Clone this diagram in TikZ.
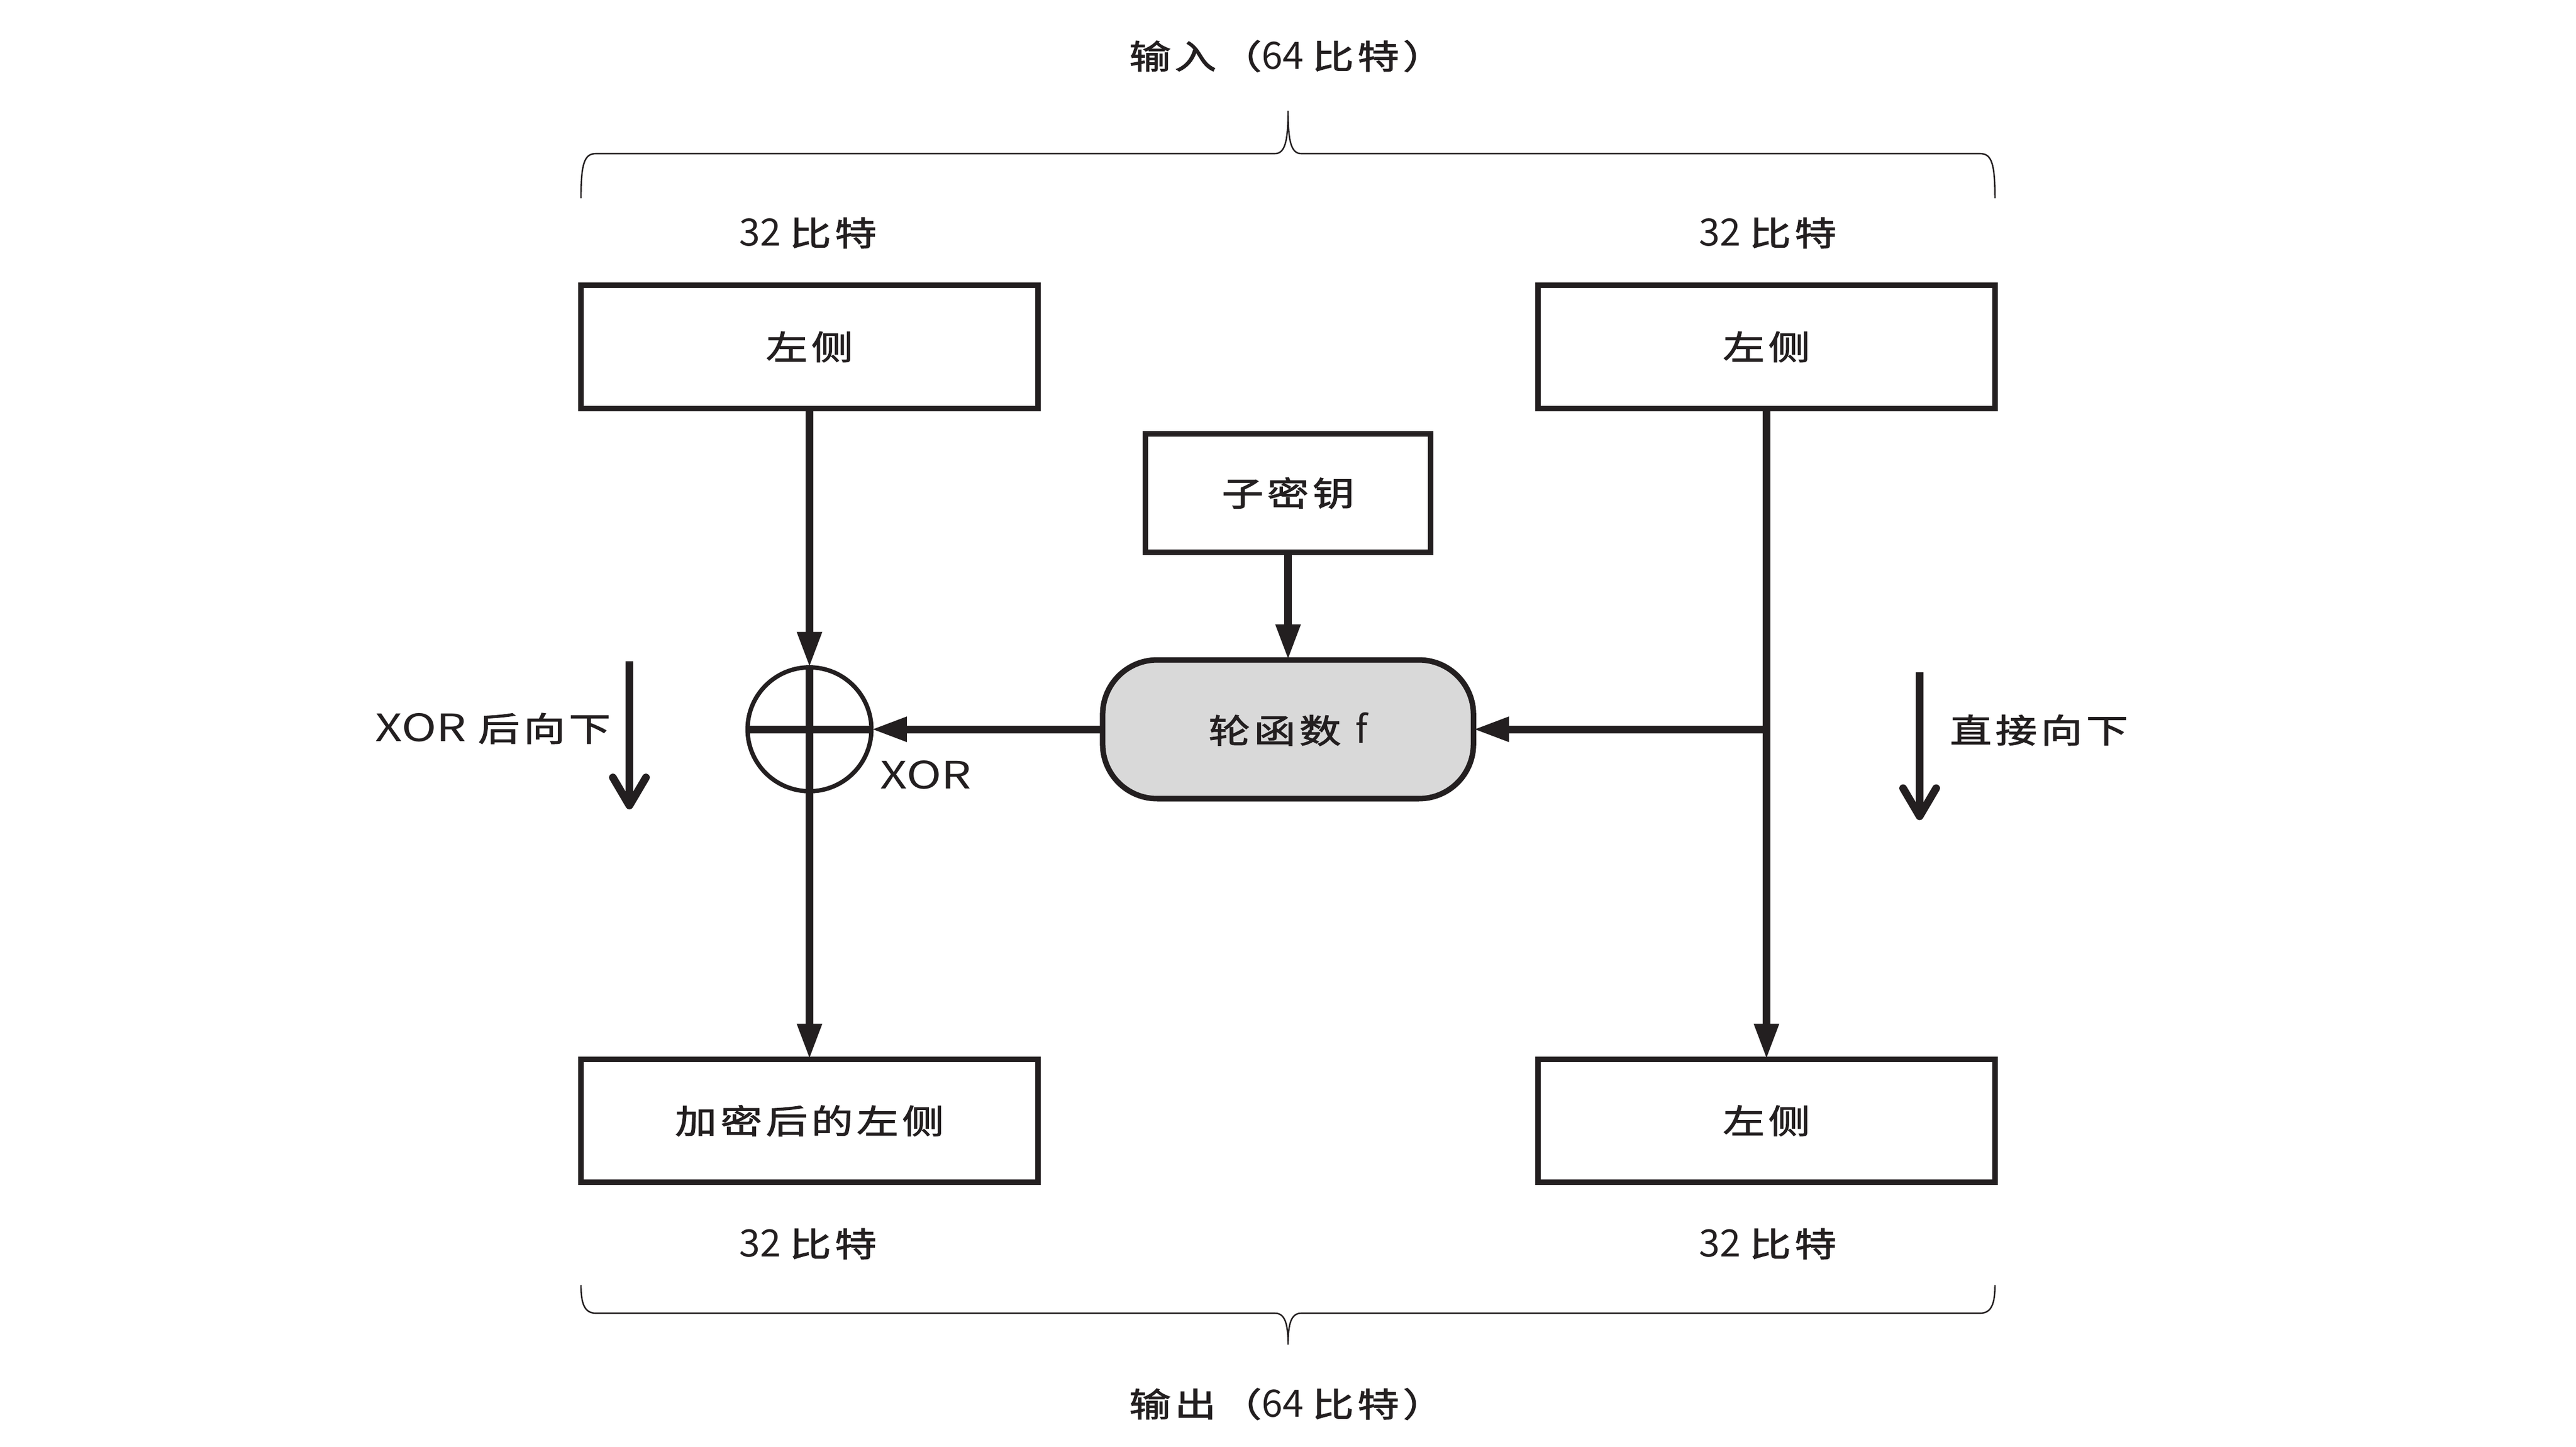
\documentclass[tikz,border=0pt]{standalone}
\usepackage{fontspec}
\setmainfont{Noto Sans CJK SC}
\newfontfamily\zhfont{Noto Sans CJK SC}[FakeStretch=1.25,LetterSpace=11,FakeBold=2,Scale=0.885]
\newcommand{\zh}[1]{{\zhfont #1}}
\newcommand{\xortext}{{\addfontfeature{FakeStretch=1.25}XOR}}
\usepackage{tikz}
\usetikzlibrary{arrows.meta}
\definecolor{ink}{HTML}{231F20}
\definecolor{fgray}{HTML}{D9D9D9}

\begin{document}
\begin{tikzpicture}[x=0.02cm,y=-0.02cm,
  font=\fontsize{13}{15}\selectfont,text=ink,
  box/.style={draw=ink,line width=1.9pt,minimum width=5.53cm,minimum height=1.49cm,inner sep=0pt,outer sep=0pt},
  lbl/.style={inner sep=0pt},
  conn/.style={draw=ink,line width=2.65pt,-{Triangle[length=0.43cm,width=0.28cm]}},
  hint/.style={draw=ink,line width=2.65pt,-{Straight Barb[length=0.34cm,width=0.4cm,round]}},
  brace/.style={draw=ink,line width=0.5pt}]
  \useasboundingbox (0,0) rectangle (1559.33,876);

  \node[lbl] (intxt) at (779,34) {\zh{输入（}64 \zh{比特）}};
  \draw[brace] (351.7,120) .. controls (351.7,99) and (353.7,93) .. (360.7,93) -- (771.7,93)
    .. controls (777.7,93) and (779.7,86) .. (779.7,67) .. controls (779.7,86) and (781.7,93) .. (787.7,93)
    -- (1198.6,93) .. controls (1205.6,93) and (1207.6,99) .. (1207.6,120);

  \node[lbl] (ltopbits) at (489,141) {32 \zh{比特}};
  \node[lbl] (rtopbits) at (1070,141) {32 \zh{比特}};

  \node[box] (ltop) at (490,210) {\zh{左侧}};
  \node[box] (rtop) at (1069.3,210) {\zh{左侧}};
  \node[box,minimum width=3.45cm,minimum height=1.43cm] (subkey) at (779.7,298.5) {\zh{子密钥}};
  \node[draw=ink,fill=fgray,line width=1.9pt,rounded corners=0.66cm,minimum width=4.49cm,
    minimum height=1.68cm,outer sep=0pt] (roundf) at (779.7,441.5) {\zh{轮函数}\hspace{2pt} f};
  \node[draw=ink,line width=1.5pt,circle,minimum size=1.5cm,inner sep=0pt,outer sep=0pt] (xor) at (490,441.5) {};
  \node[lbl] (xortxt) at (560.5,469) {\xortext};

  \node[box] (lbot) at (490,678.5) {\zh{加密后的左侧}};
  \node[box] (rbot) at (1069.3,678.5) {\zh{左侧}};

  \node[lbl] (lbotbits) at (489,753) {32 \zh{比特}};
  \node[lbl] (rbotbits) at (1070,753) {32 \zh{比特}};
  \draw[brace] (351.7,778) .. controls (351.7,789) and (353.7,795) .. (360.7,795) -- (771.7,795)
    .. controls (777.7,795) and (779.7,801) .. (779.7,814) .. controls (779.7,801) and (781.7,795) .. (787.7,795)
    -- (1198.6,795) .. controls (1205.6,795) and (1207.6,789) .. (1207.6,778);
  \node[lbl] (outtxt) at (779,850) {\zh{输出（}64 \zh{比特）}};

  \coordinate (split) at (rtop.south |- roundf.east);
  \draw[conn] (ltop) -- (xor.north);
  \draw[draw=ink,line width=2.65pt] (xor.north) -- (xor.south);
  \draw[draw=ink,line width=2.65pt] (xor.west) -- (xor.east);
  \draw[conn] (xor.south) -- (lbot);
  \draw[conn] (subkey) -- (roundf);
  \draw[conn] (roundf) -- (xor.east);
  \draw[conn] (rtop) -- (rbot);
  \draw[conn] (split) -- (roundf.east);

  \coordinate (lhs) at (381,400.3);
  \coordinate (lhe) at (381,490);
  \draw[hint] (lhs) -- (lhe);
  \node[lbl,anchor=east] (lhtxt) at (370,441) {\xortext\hspace{4pt}\zh{后向下}};
  \coordinate (rhs) at (1162,407);
  \coordinate (rhe) at (1162,496.5);
  \draw[hint] (rhs) -- (rhe);
  \node[lbl,anchor=west] (rhtxt) at (1180,442) {\zh{直接向下}};
\end{tikzpicture}
\end{document}
